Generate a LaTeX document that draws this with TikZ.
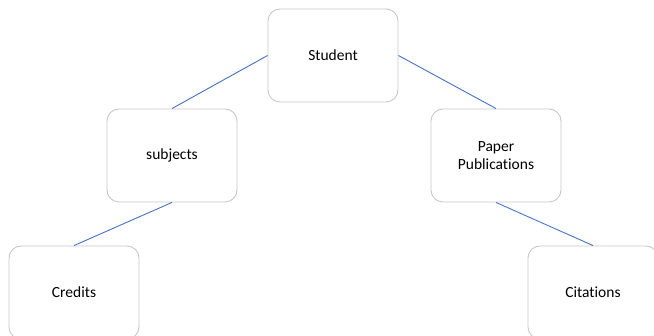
\documentclass[tikz,border=0pt]{standalone}
\usepackage{fontspec}
\setmainfont{Carlito}[Ligatures=NoCommon]
\definecolor{linkblue}{RGB}{68,114,196}
\definecolor{boxgray}{RGB}{200,200,200}
\begin{document}
\begin{tikzpicture}[>=stealth,x=1pt,y=-1pt,
	box/.style={draw=boxgray,line width=0.9pt,rounded corners=12pt,fill=white,minimum width=130pt,minimum height=93pt,align=center,font=\fontsize{15.5}{18}\selectfont},
	link/.style={draw=linkblue,line width=0.9pt}]
	\def\W{654} % chiều rộng hình
	\def\H{336}
	\useasboundingbox (0,0) rectangle (\W,\H);
	\clip (0,0) rectangle (\W,\H); % hai hộp dưới bị cắt ở mép
	\node[box] (student) at (333,55.5) {Student};
	\node[box] (subjects) at (172,155.5) {subjects};
	\node[box] (papers) at (496,155.5) {Paper\\Publications};
	\node[box] (credits) at (74,292.5) {Credits};
	\node[box] (citations) at (593,292.5) {Citations};
	\draw[link] (student.west)--(subjects.north);
	\draw[link] (student.east)--(papers.north);
	\draw[link] (subjects.south)--(credits.north);
	\draw[link] (papers.south)--(citations.north);
\end{tikzpicture}
\end{document}
